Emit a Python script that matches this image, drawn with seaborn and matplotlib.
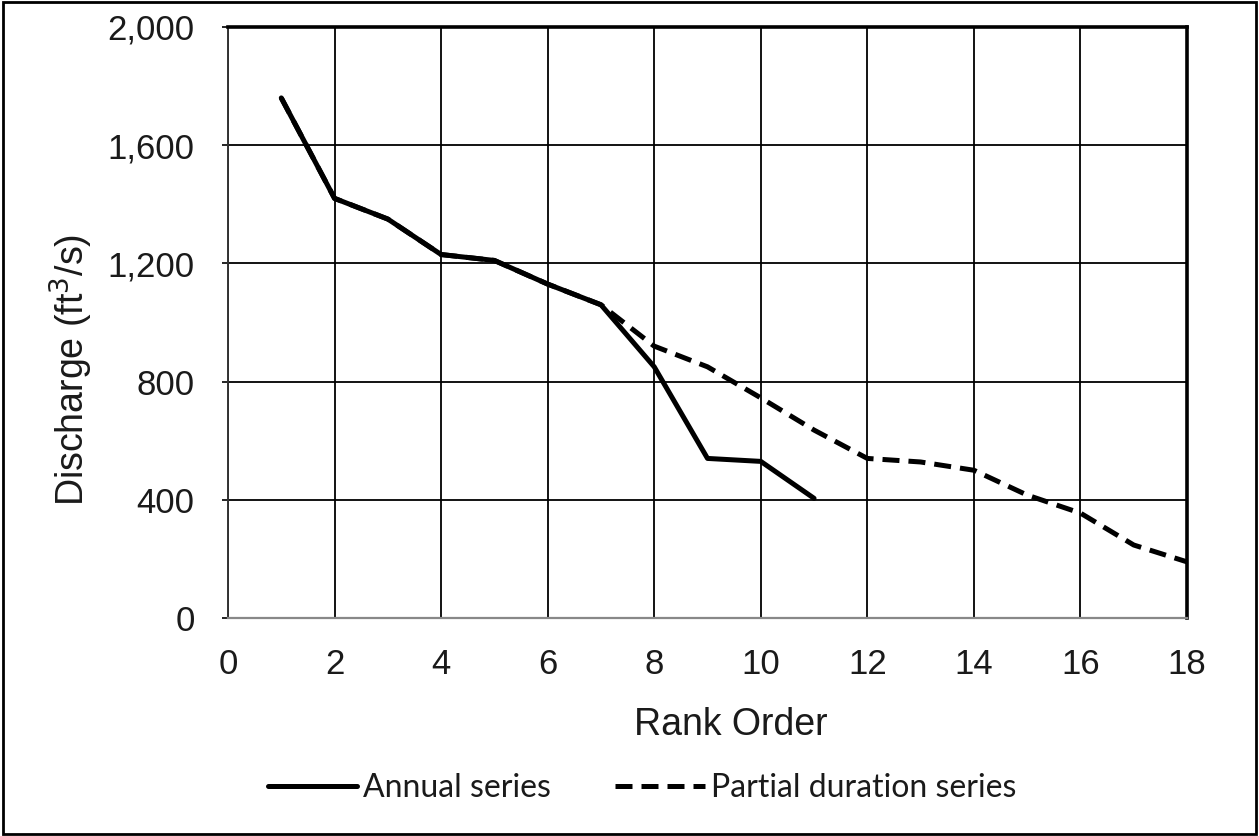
import matplotlib
matplotlib.use("Agg")
import matplotlib.pyplot as plt
from matplotlib.ticker import FuncFormatter, MultipleLocator
from matplotlib.lines import Line2D
from matplotlib.patches import Rectangle
import pandas as pd
import seaborn as sns

# Ranked peak discharges
annual_rank = [1, 2, 3, 4, 5, 6, 7, 8, 9, 10, 11]
annual_q = [1760, 1420, 1350, 1230, 1210, 1130, 1060, 850, 540, 530, 405]

partial_rank = [1, 2, 3, 4, 5, 6, 7, 8, 9, 10, 11, 12, 13, 14, 15, 16, 17, 18]
partial_q = [1760, 1420, 1350, 1230, 1210, 1130, 1060, 920, 850, 745, 636,
             540, 528, 500, 416, 355, 247, 190]

series_names = ["Annual series", "Partial duration series"]

df = pd.concat([
    pd.DataFrame({"Rank": partial_rank, "Q": partial_q, "Series": series_names[1]}),
    pd.DataFrame({"Rank": annual_rank, "Q": annual_q, "Series": series_names[0]}),
])

sns.set_style("white")
plt.rcParams["font.family"] = ["Liberation Sans", "DejaVu Sans"]

fig = plt.figure(figsize=(12.59, 8.36), dpi=100)
ax = fig.add_axes([228 / 1259, 1 - 618 / 836, (1187 - 228) / 1259, (618 - 27) / 836])

dash = (3.4, 1.8)
sns.lineplot(data=df, x="Rank", y="Q", style="Series",
             style_order=series_names,
             dashes={series_names[0]: "", series_names[1]: dash},
             color="black", linewidth=3.6, legend=False, ax=ax, sort=False)
# keep the annual line on top of the dashed one
for ln in ax.get_lines():
    ln.set_zorder(4 if ln.get_linestyle() == "-" else 3)

ax.set_xlim(0, 18)
ax.set_ylim(0, 2000)
ax.xaxis.set_major_locator(MultipleLocator(2))
ax.yaxis.set_major_locator(MultipleLocator(400))
ax.yaxis.set_major_formatter(FuncFormatter(lambda v, p: f"{v:,.0f}"))

ax.grid(True, color="black", linewidth=1.3)
ax.set_axisbelow(True)

for side in ["top", "right"]:
    ax.spines[side].set_color("black")
    ax.spines[side].set_linewidth(2.6)
ax.spines["left"].set_color("#333333")
ax.spines["left"].set_linewidth(1.4)
ax.spines["bottom"].set_color("#888888")
ax.spines["bottom"].set_linewidth(1.6)

ax.tick_params(axis="y", which="major", left=True, length=4, width=1.2,
               color="black", labelsize=25, pad=20, labelcolor="#1a1a1a")
ax.tick_params(axis="x", which="major", bottom=False, labelsize=25, pad=18,
               labelcolor="#1a1a1a")

ax.set_xlabel("Rank Order", fontsize=27, color="#1a1a1a")
ax.set_ylabel("Discharge (ft$^3$/s)", fontsize=27, color="#1a1a1a")
ax.xaxis.set_label_coords(0.5245, -0.150)
ax.yaxis.set_label_coords(-0.139, 0.42)

handles = [Line2D([0], [0], color="black", lw=3.6, linestyle="-"),
           Line2D([0], [0], color="black", lw=3.6, linestyle=(0, dash))]
fig.legend(handles, series_names, loc="center", ncol=2,
           bbox_to_anchor=(642 / 1259, 1 - 788 / 836), frameon=False,
           prop={"family": ["Lato", "DejaVu Sans"], "size": 23},
           handlelength=2.8, handletextpad=0.2, columnspacing=2.0,
           labelcolor="#1a1a1a")

fig.patches.append(Rectangle((0.002, 0.002), 0.996, 0.996, transform=fig.transFigure,
                             fill=False, edgecolor="black", linewidth=2))

fig.savefig("out.png", dpi=100, facecolor="white")
